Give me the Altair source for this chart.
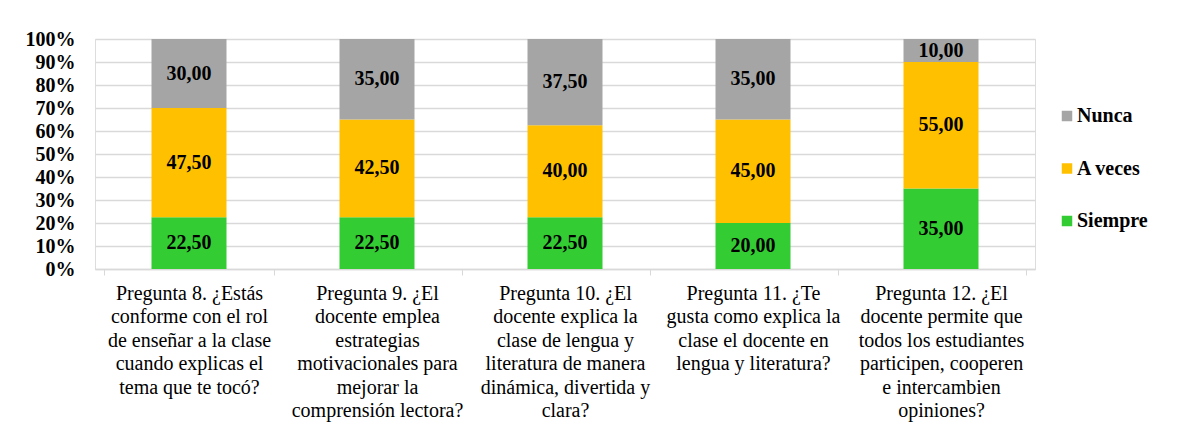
import altair as alt
import pandas as pd

categorias = [
    "Pregunta 8. ¿Estás|conforme con el rol|de enseñar a la clase|cuando explicas el|tema que te tocó?",
    "Pregunta 9. ¿El|docente emplea|estrategias|motivacionales para|mejorar la|comprensión lectora?",
    "Pregunta 10. ¿El|docente explica la|clase de lengua y|literatura de manera|dinámica, divertida y|clara?",
    "Pregunta 11. ¿Te|gusta como explica la|clase el docente en|lengua y literatura?",
    "Pregunta 12. ¿El|docente permite que|todos los estudiantes|participen, cooperen|e intercambien|opiniones?",
]
siempre = [22.5, 22.5, 22.5, 20.0, 35.0]
a_veces = [47.5, 42.5, 40.0, 45.0, 55.0]
nunca = [30.0, 35.0, 37.5, 35.0, 10.0]

series = ["Siempre", "A veces", "Nunca"]

rows = []
for i, c in enumerate(categorias):
    for k, (s, vals) in enumerate(zip(series, [siempre, a_veces, nunca])):
        rows.append({"cat": c, "serie": s, "value": vals[i], "ord": k})
df = pd.DataFrame(rows)

FONT = "Times New Roman, Liberation Serif, Tinos, serif"

color_scale = alt.Scale(domain=["Nunca", "A veces", "Siempre"],
                        range=["#a5a5a5", "#ffc000", "#33cc33"])

x_axis = alt.Axis(labelExpr="split(datum.label, '|')", labelAngle=0,
                  labelFont=FONT, labelFontSize=20, labelColor="#000000",
                  labelLineHeight=23.5, labelPadding=8, labelLimit=400,
                  tickBand="extent", tickSize=6, tickColor="#d9d9d9",
                  domainColor="#d9d9d9", domainWidth=1.5, grid=False)
y_axis = alt.Axis(values=list(range(0, 101, 10)), labelExpr="datum.value + '%'",
                  labelFont=FONT, labelFontSize=20, labelFontWeight="bold",
                  labelColor="#000000", labelPadding=20, ticks=False,
                  labelOverlap=False,
                  domain=False, gridColor="#d9d9d9", gridWidth=1.5)
y_scale = alt.Scale(domain=[0, 100])

base = alt.Chart(df)

bars = base.mark_bar(size=75).encode(
    x=alt.X("cat:N", sort=categorias, title=None, axis=x_axis),
    y=alt.Y("value:Q", stack="zero", scale=y_scale, title=None, axis=y_axis),
    color=alt.Color("serie:N", scale=color_scale,
                    legend=alt.Legend(title=None, orient="none", legendX=962, legendY=67,
                                      symbolType="square", symbolSize=110,
                                      symbolStrokeWidth=0, labelFont=FONT,
                                      labelFontSize=20, labelFontWeight="bold",
                                      labelColor="#000000", rowPadding=32.5,
                                      labelOffset=0, padding=0)),
    order=alt.Order("ord:Q", sort="ascending"),
)

labels = base.transform_stack(
    stack="value", groupby=["cat"], as_=["v0", "v1"],
    sort=[alt.SortField("ord", order="ascending")],
).transform_calculate(
    mid="(datum.v0 + datum.v1) / 2",
    lbl="replace(format(datum.value, '.2f'), '.', ',')",
).mark_text(font=FONT, fontSize=20, fontWeight="bold", color="#000000").encode(
    x=alt.X("cat:N", sort=categorias, title=None, axis=x_axis),
    y=alt.Y("mid:Q", scale=y_scale, title=None, axis=y_axis),
    text="lbl:N",
)

chart = alt.layer(bars, labels).properties(
    width=940, height=230,
    autosize=alt.AutoSizeParams(type="none"),
    padding={"left": 87, "top": 31, "right": 140, "bottom": 162},
).configure_view(strokeWidth=0).configure(background="white")

chart.save("out.html", embed_options={"renderer": "svg", "actions": False})
